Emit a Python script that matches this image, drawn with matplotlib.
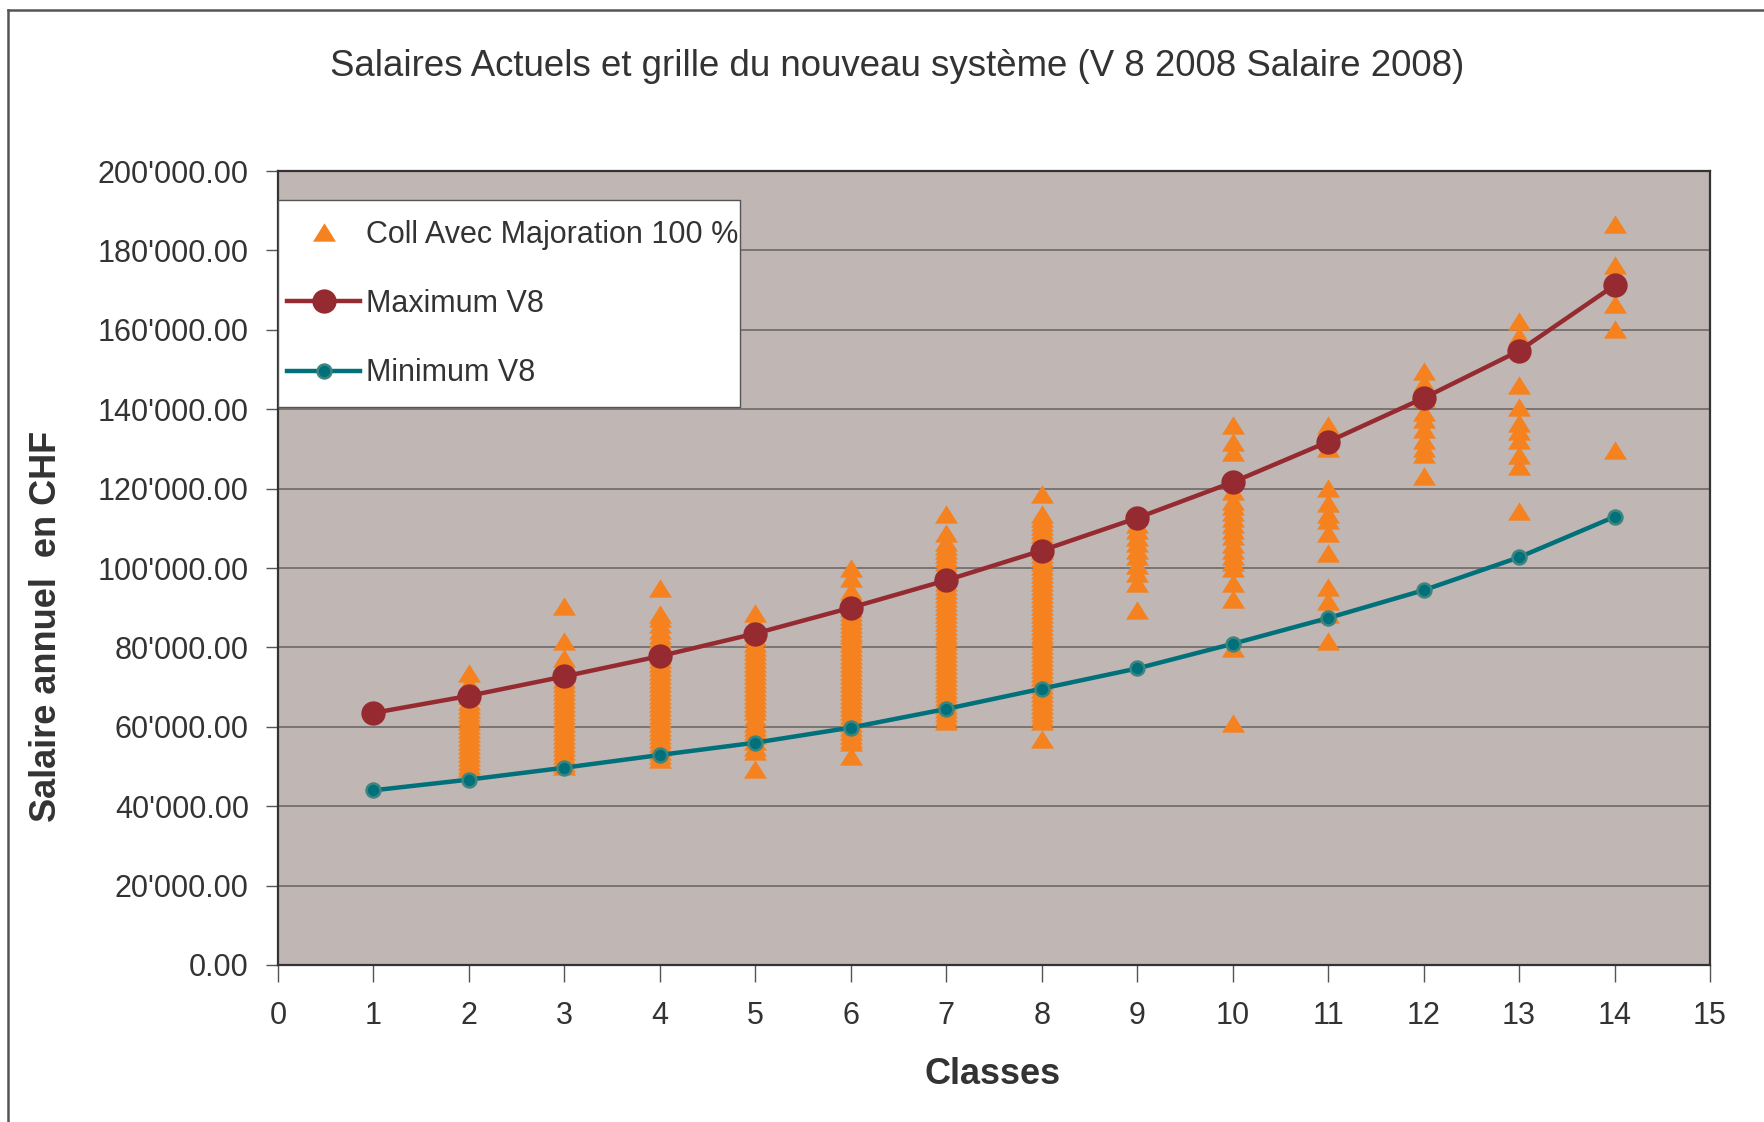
import matplotlib
matplotlib.use("Agg")
import matplotlib.pyplot as plt
from matplotlib.lines import Line2D
from matplotlib.patches import Rectangle

plt.rcParams['font.family'] = ['Liberation Sans', 'DejaVu Sans']

# ---------------- data ----------------
classes = [1, 2, 3, 4, 5, 6, 7, 8, 9, 10, 11, 12, 13, 14]
max_v8 = [63500, 67800, 72700, 77800, 83500, 90000, 96900, 104400, 112600, 121600, 131800, 142800, 154700, 171200]
min_v8 = [44000, 46700, 49700, 52900, 56000, 59800, 64500, 69600, 74700, 80900, 87400, 94400, 102700, 112900]

coll_c2 = [73500, 71000, 69500, 68000, 66500, 65500, 64500, 63500, 62500, 61500, 60500, 59500,
           58500, 57500, 56500, 55500, 54500, 53500, 52500, 51500, 50500, 49500]
coll_c3 = [90400, 81500, 77300, 74700, 73500, 72000, 71000, 70000, 69000, 68000, 67000, 66000,
           65000, 64000, 63000, 62000, 61000, 60000, 59000, 58000, 57000, 56000, 55000, 54000,
           53000, 52000, 51000, 50200]
coll_c4 = [94900, 88300, 87500, 86000, 84500, 83000, 82000, 81000, 80000, 79000, 78000, 77000,
           76000, 75000, 74000, 73000, 72000, 71000, 70000, 69000, 68000, 67000, 66000, 65000,
           64000, 63000, 62000, 61000, 60000, 59000, 58000, 57000, 56000, 55000, 54000, 53000, 51900]
coll_c5 = [88700, 86500, 85000, 84000, 82500, 81000, 80000, 79000, 78000, 77000, 76000, 75000,
           74000, 73000, 72000, 71000, 70000, 69000, 68000, 67000, 66000, 65000, 64000, 62500,
           61000, 60000, 59000, 58000, 56500, 55000, 54000, 49300]
coll_c6 = [100000, 97600, 94200, 93000, 92000, 91000, 90000, 89000, 88000, 87000, 86000, 85000,
           84000, 83000, 82000, 81000, 80000, 79000, 78000, 77000, 76000, 75000, 74000, 73000,
           72000, 71000, 70000, 69000, 68000, 67000, 66000, 65000, 64000, 63000, 62000, 61000,
           60000, 59000, 58000, 57000, 56100, 52700]
coll_c7 = [113700, 108700, 106600, 105500, 104500, 103500, 102500, 101500, 100500, 99500, 98500,
           97500, 96500, 95500, 94500, 93500, 92500, 91500, 90500, 89500, 88500, 87500, 86500,
           85500, 84500, 83500, 82500, 81500, 80500, 79500, 78500, 77500, 76500, 75500, 74500,
           73500, 72500, 71500, 70500, 69500, 68500, 67500, 66500, 65500, 64500, 63500, 62500, 61500]
coll_c8 = [118700, 113700, 112500, 111500, 110500, 109500, 108500, 107500, 106500, 105500, 104500,
           103500, 102500, 101500, 100500, 99500, 98500, 97500, 96500, 95500, 94500, 93500, 92500,
           91500, 90500, 89500, 88500, 87500, 86500, 85500, 84500, 83500, 82500, 81500, 80500,
           79500, 78500, 77500, 76500, 75500, 74500, 73500, 72500, 71500, 70500, 69500, 68500,
           67500, 66500, 65500, 64500, 63500, 62500, 61500, 57000]
coll_c9 = [111200, 109600, 107800, 106200, 104500, 102900, 100800, 98700, 96200, 89500]
coll_c10 = [136100, 131700, 129300, 119300, 117000, 115500, 114000, 112500, 111000, 109500,
            108000, 106000, 104500, 103000, 101500, 100000, 96200, 92300, 79800, 61000]
coll_c11 = [136100, 132500, 130300, 120200, 116300, 113500, 112000, 108700, 103800, 95200,
            91800, 88500, 81700]
coll_c12 = [149500, 146600, 142800, 139400, 137500, 135100, 132200, 130300, 128800, 123100]
coll_c13 = [162200, 158500, 146200, 140600, 136500, 134500, 132200, 128400, 125800, 114400]
coll_c14 = [186700, 176200, 173000, 166500, 160300, 129800]

coll_by_class = {2: coll_c2, 3: coll_c3, 4: coll_c4, 5: coll_c5, 6: coll_c6, 7: coll_c7,
                 8: coll_c8, 9: coll_c9, 10: coll_c10, 11: coll_c11, 12: coll_c12,
                 13: coll_c13, 14: coll_c14}

y_ticks = [0, 20000, 40000, 60000, 80000, 100000, 120000, 140000, 160000, 180000, 200000]
x_ticks = list(range(0, 16))

title = "Salaires Actuels et grille du nouveau système (V 8 2008 Salaire 2008)"
xlabel = "Classes"
ylabel = "Salaire annuel  en CHF"
labels = ["Coll Avec Majoration 100 %", "Maximum V8", "Minimum V8"]

# ---------------- style ----------------
orange = "#F5821F"
red = "#962A31"
teal = "#00707A"
teal_edge = "#3E8580"
bg = "#C0B6B3"
grid_c = "#6E6868"
text_c = "#333333"

tri = [(-1, -0.8), (1, -0.8), (0, 0.8)]
tri_ms = 16.5
line_w = 3.2

W, H = 1764, 1122
ax_l, ax_r, ax_t, ax_b = 278, 1710, 171, 965

fig = plt.figure(figsize=(W / 100, H / 100), dpi=100)
ax = fig.add_axes([ax_l / W, 1 - ax_b / H, (ax_r - ax_l) / W, (ax_b - ax_t) / H])
ax.set_facecolor(bg)

xs, ys = [], []
for c, vals in coll_by_class.items():
    xs.extend([c] * len(vals))
    ys.extend(vals)
ax.plot(xs, ys, linestyle='none', marker=tri, markersize=tri_ms, color=orange,
        markeredgewidth=0, zorder=3)
ax.plot(classes, max_v8, color=red, lw=line_w, marker='o', markersize=17.5,
        markeredgewidth=0, zorder=4)
ax.plot(classes, min_v8, color=teal, lw=line_w, marker='o', markersize=10,
        markerfacecolor=teal, markeredgecolor=teal_edge, markeredgewidth=1.8, zorder=5)

ax.set_xlim(0, 15)
ax.set_ylim(0, 200000)
ax.set_xticks(x_ticks)
ax.set_yticks(y_ticks)
ax.set_yticklabels([f"{v:,.2f}".replace(",", "'") for v in y_ticks])
ax.yaxis.grid(True, color=grid_c, lw=1.2)
ax.set_axisbelow(True)
for s in ax.spines.values():
    s.set_color(text_c)
    s.set_linewidth(1.6)
ax.tick_params(axis='y', direction='out', length=9, width=1, color='#555555',
               labelsize=22, labelcolor=text_c, pad=12)
ax.tick_params(axis='x', direction='out', length=12, width=1, color='#555555',
               labelsize=22, labelcolor=text_c, pad=14)

fig.text(0.5085, 1 - 66 / H, title, ha='center', va='center', fontsize=26.4, color=text_c)
fig.text(993 / W, 1 - 1074 / H, xlabel, ha='center', va='center', fontsize=26,
         fontweight='bold', color=text_c)
fig.text(47 / W, 1 - 626 / H, ylabel, ha='center', va='center', rotation=90,
         fontsize=26, fontweight='bold', color=text_c)

# legend frame drawn manually
pw, ph = ax_r - ax_l, ax_b - ax_t
frame = Rectangle((0, 1 - (407 - ax_t) / ph), (740 - ax_l) / pw, (407 - 200) / ph,
                  transform=ax.transAxes, facecolor='white', edgecolor='#555555',
                  linewidth=1.0, zorder=6)
ax.add_patch(frame)

handles = [
    Line2D([], [], linestyle='none', marker=tri, markersize=tri_ms, color=orange, markeredgewidth=0),
    Line2D([], [], color=red, lw=line_w, marker='o', markersize=17.5, markeredgewidth=0),
    Line2D([], [], color=teal, lw=line_w, marker='o', markersize=10, markerfacecolor=teal,
           markeredgecolor=teal_edge, markeredgewidth=1.8),
]
leg = ax.legend(handles, labels, loc='upper left',
                bbox_to_anchor=((287 - ax_l) / pw, 1 - (220 - ax_t) / ph),
                borderaxespad=0, frameon=False, fontsize=22,
                handlelength=2.4, handletextpad=0.2, labelspacing=1.28,
                borderpad=0)
leg.set_zorder(7)
for t in leg.get_texts():
    t.set_color(text_c)

# figure border (top and left)
fig.add_artist(Line2D([8 / W, 8 / W], [0, 1 - 10 / H], color='#555555', lw=1.8,
                      transform=fig.transFigure))
fig.add_artist(Line2D([8 / W, 1], [1 - 10 / H, 1 - 10 / H], color='#555555', lw=1.8,
                      transform=fig.transFigure))

fig.savefig("out.png", dpi=100)
